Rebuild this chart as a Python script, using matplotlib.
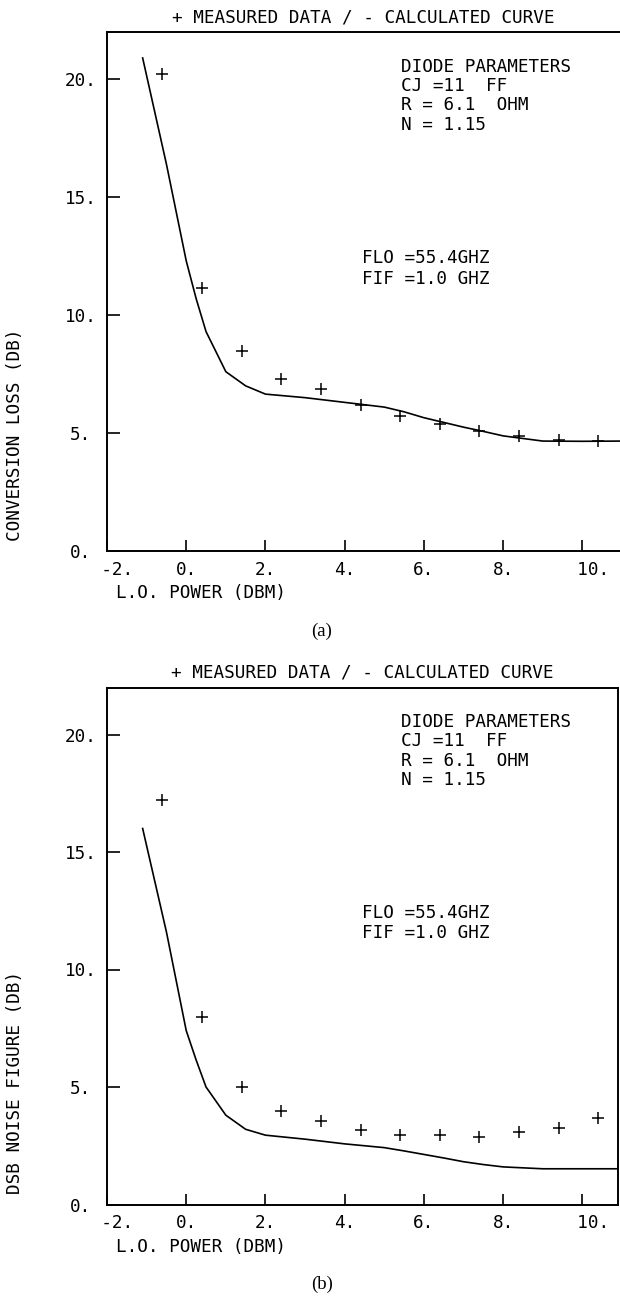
import matplotlib
matplotlib.use("Agg")
import matplotlib.pyplot as plt

# ---------------- data ----------------
x_ticks = [-2, 0, 2, 4, 6, 8, 10]
x_tick_labels = ["  -2.", "0.", "2.", "4.", "6.", "8.", "  10."]
y_ticks = [0, 5, 10, 15, 20]
y_tick_labels = ["0.", "5.", "10.", "15.", "20."]

meas_x = [-0.6, 0.4, 1.4, 2.4, 3.4, 4.4, 5.4, 6.4, 7.4, 8.4, 9.4, 10.4]
loss_meas = [20.2, 11.15, 8.47, 7.28, 6.88, 6.2, 5.71, 5.37, 5.09, 4.86, 4.69, 4.66]
nf_meas = [17.2, 8.0, 5.02, 3.99, 3.57, 3.17, 2.94, 2.94, 2.86, 3.07, 3.26, 3.68]

curve_x = [-1.1, -0.5, 0.0, 0.25, 0.5, 1.0, 1.5, 2.0, 3.0, 4.0, 5.0, 5.5, 6.0, 6.5, 7.0, 7.5, 8.0, 9.0, 10.0, 11.0]
loss_calc = [20.9, 16.4, 12.3, 10.7, 9.3, 7.6, 7.0, 6.65, 6.5, 6.3, 6.1, 5.9, 5.65, 5.45, 5.25, 5.07, 4.88, 4.66, 4.65, 4.66]
nf_calc = [16.0, 11.6, 7.4, 6.15, 5.0, 3.8, 3.2, 2.95, 2.78, 2.58, 2.42, 2.28, 2.13, 1.98, 1.82, 1.7, 1.6, 1.52, 1.52, 1.52]

title_text = "+ MEASURED DATA / - CALCULATED CURVE"
xlabel_text = "L.O. POWER (DBM)"
ylabels = ["CONVERSION LOSS (DB)", "DSB NOISE FIGURE (DB)"]
param_lines = ["DIODE PARAMETERS", "CJ =11  FF", "R = 6.1  OHM", "N = 1.15"]
freq_lines = ["FLO =55.4GHZ", "FIF =1.0 GHZ"]
panel_tags = ["(a)", "(b)"]

MONO = "DejaVu Sans Mono"
FS = 12.7

W, H = 620, 1298
fig = plt.figure(figsize=(W / 100, H / 100), dpi=100)

# axes geometry in pixels: (left, top, right, bottom)
geoms = [(107, 32, 620, 551), (107, 687.5, 618, 1204.5)]
xlims = [(-2, 10.95), (-2, 10.9)]
meas_sets = [loss_meas, nf_meas]
calc_sets = [loss_calc, nf_calc]

for i, (l, t, r, b) in enumerate(geoms):
    ax = fig.add_axes([l / W, 1 - b / H, (r - l) / W, (b - t) / H])
    ax.set_xlim(*xlims[i])
    ax.set_ylim(0, 22)
    ax.plot(curve_x, calc_sets[i], color="black", lw=1.2)
    ax.plot(meas_x, meas_sets[i], linestyle="none", marker="+", color="black",
            markersize=9, markeredgewidth=1.1)

    for s in ax.spines.values():
        s.set_linewidth(1.4)
    if i == 0:
        ax.spines["right"].set_visible(False)

    ax.set_xticks(x_ticks)
    ax.set_xticklabels(x_tick_labels, family=MONO, fontsize=FS)
    ax.set_yticks(y_ticks)
    ax.set_yticklabels(y_tick_labels, family=MONO, fontsize=FS, ha="center")
    ax.tick_params(axis="x", direction="in", length=8, width=1.2, pad=7,
                   top=False)
    ax.tick_params(axis="y", direction="in", length=9, width=1.2, pad=19,
                   right=False)

    # title
    ax.text(0.5, 1 + 15 / (b - t), title_text, transform=ax.transAxes,
            ha="center", va="center", family=MONO, fontsize=FS)
    # x label
    ax.text(9 / (r - l), -42 / (b - t), xlabel_text, transform=ax.transAxes,
            ha="left", va="center", family=MONO, fontsize=FS)
    # y label (positioned by its lower end)
    fig.text(15 / W, 1 - (b - 10) / H, ylabels[i], rotation=90,
             ha="center", va="bottom", family=MONO, fontsize=FS)
    # panel tag
    fig.text(322 / W, 1 - (b + 80) / H, panel_tags[i], ha="center", va="center",
             family="Liberation Serif", fontsize=13.5)

    # annotations
    for k, line in enumerate(param_lines):
        ax.text(5.42, 20.53 - 0.82 * k, line, ha="left", va="center",
                family=MONO, fontsize=FS)
    for k, line in enumerate(freq_lines):
        ax.text(4.44, 12.4 - 0.85 * k, line, ha="left", va="center",
                family=MONO, fontsize=FS)

fig.savefig("out.png", dpi=100)
